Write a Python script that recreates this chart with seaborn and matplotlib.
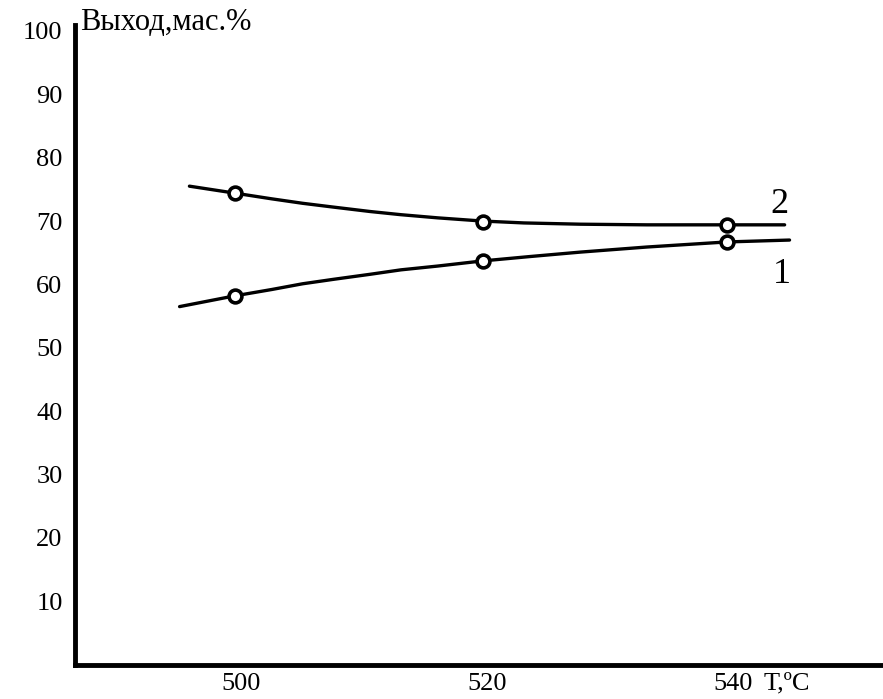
# Import pandas, matplotlib and seaborn
import pandas as pd
import matplotlib
matplotlib.use("Agg")
import matplotlib.pyplot as plt
import seaborn as sns

# ------------------------------------------------------------------
# Data
# ------------------------------------------------------------------

# Curve 2 (upper): temperature and yield along the drawn line
curve2_t = [495.8, 499.5, 502.5, 505, 507.5, 510.5, 513, 516, 519.6,
            523, 527.6, 533, 539.5, 544.2]
curve2_y = [75.5, 74.4, 73.5, 72.8, 72.2, 71.5, 71.0, 70.5, 70.0,
            69.7, 69.5, 69.4, 69.4, 69.4]
# Curve 1 (lower): temperature and yield along the drawn line
curve1_t = [495.0, 499.5, 502.5, 505, 507.5, 510.5, 513, 516, 519.6,
            523.5, 527.6, 533, 539.5, 544.6]
curve1_y = [56.5, 58.2, 59.2, 60.1, 60.8, 61.6, 62.3, 62.9, 63.7,
            64.4, 65.1, 65.9, 66.7, 67.0]

# Measured points (circles)
point_t = [499.5, 519.7, 539.5]
point2_y = [74.4, 69.9, 69.4]
point1_y = [58.2, 63.7, 66.7]

# Tick labels
x_ticks = [500, 520, 540]
y_ticks = [10, 20, 30, 40, 50, 60, 70, 80, 90, 100]

# Build tables for seaborn
lines = pd.DataFrame({
    "t": curve1_t + curve2_t,
    "y": curve1_y + curve2_y,
    "curve": ["1"] * len(curve1_t) + ["2"] * len(curve2_t),
})
points = pd.DataFrame({
    "t": point_t * 2,
    "y": point1_y + point2_y,
    "curve": ["1"] * len(point_t) + ["2"] * len(point_t),
})

# ------------------------------------------------------------------
# Plot
# ------------------------------------------------------------------

sns.set_style("white")
plt.rcParams["font.family"] = ["Liberation Serif", "DejaVu Serif"]
# Pure black text, ticks and spines
plt.rcParams["text.color"] = "black"
plt.rcParams["xtick.color"] = "black"
plt.rcParams["ytick.color"] = "black"
plt.rcParams["axes.edgecolor"] = "black"

fig = plt.figure(figsize=(8.83, 6.99), dpi=100)
ax = fig.add_axes([0.085, 0.049, 0.915, 0.915])

# Smooth curves
sns.lineplot(data=lines, x="t", y="y", units="curve", estimator=None,
             sort=False, color="black", linewidth=2.4, ax=ax, legend=False)
# Circle markers
sns.scatterplot(data=points, x="t", y="y", marker="o", s=85,
                facecolor="white", edgecolor="black", linewidth=2.6,
                ax=ax, legend=False, zorder=3)

# Axis limits
ax.set_xlim(486.5, 552.2)
ax.set_ylim(0, 100.9)

# Ticks
ax.set_xticks(x_ticks)
ax.set_yticks(y_ticks)
ax.tick_params(axis="x", direction="in", length=14, width=2.5,
               labelsize=19, pad=6)
ax.tick_params(axis="y", direction="in", length=12, width=2.5,
               labelsize=19, pad=9)

# Spines: only left and bottom, thick
sns.despine(ax=ax)
ax.spines["left"].set_linewidth(3.5)
ax.spines["bottom"].set_linewidth(3.5)

# No axis labels, text placed by hand
ax.set_xlabel("")
ax.set_ylabel("")
fig.text(80 / 883, 1 - 22 / 699, "Выход,мас.%", fontsize=22,
         ha="left", va="center")
fig.text(764 / 883, 1 - 672 / 699, "T,ºC", fontsize=19,
         ha="left", va="top")

# Curve numbers
ax.text(543.8, 72.6, "2", fontsize=26, ha="center", va="center")
ax.text(544.0, 61.5, "1", fontsize=26, ha="center", va="center")

# Save
plt.savefig("out.png", dpi=100, facecolor="white")
